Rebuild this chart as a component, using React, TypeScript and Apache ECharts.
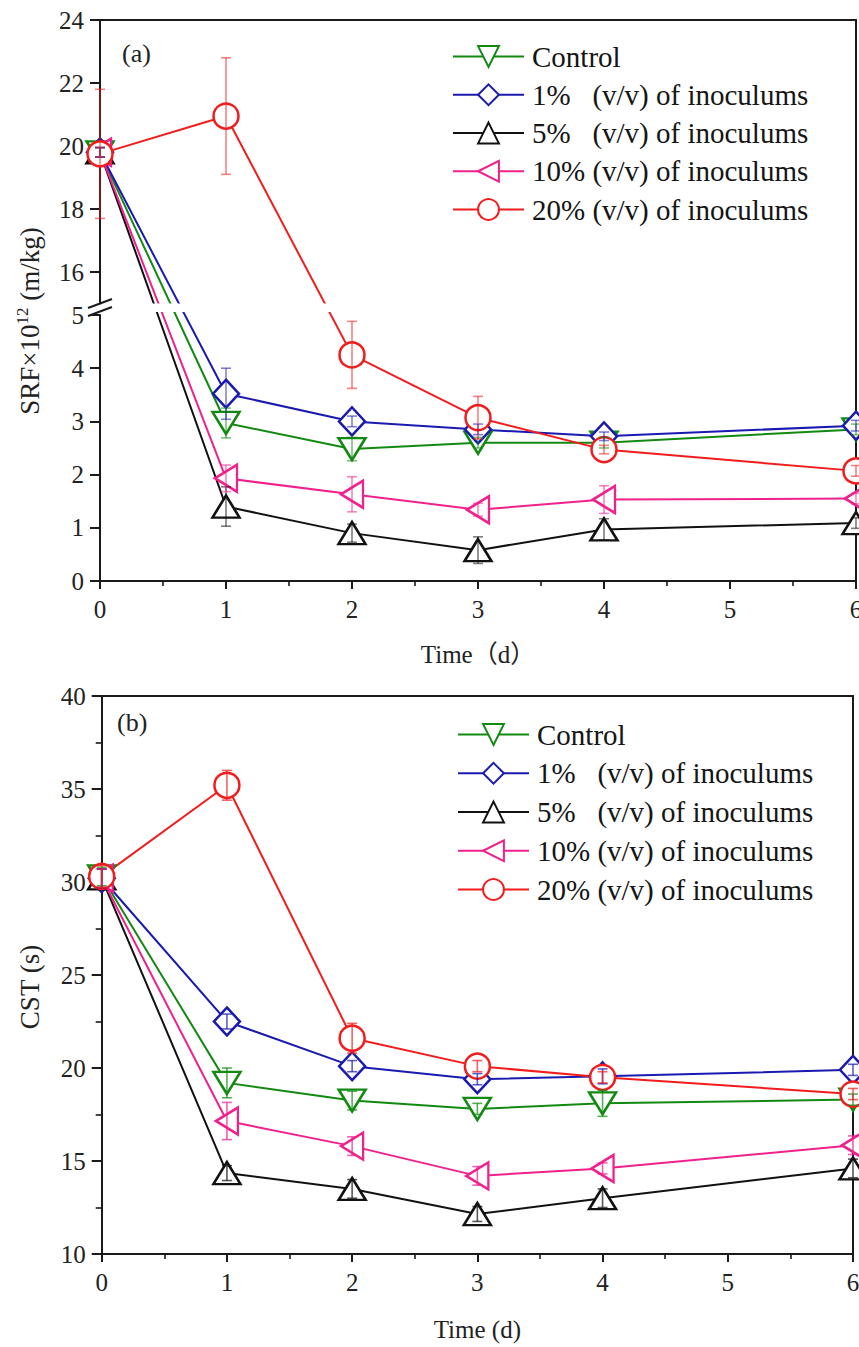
import React, { useEffect, useRef } from "react";
import * as echarts from "echarts";

// ---------- data ----------
const days = [0, 1, 2, 3, 4, 6];

const seriesNames = [
  "Control",
  "1%\u00a0\u00a0\u00a0(v/v) of inoculums",
  "5%\u00a0\u00a0\u00a0(v/v) of inoculums",
  "10% (v/v) of inoculums",
  "20% (v/v) of inoculums",
];

// SRF ×10^12 (m/kg)
const srfControl = [19.8, 2.97, 2.48, 2.6, 2.6, 2.85];
const srf1 = [19.8, 3.52, 3.0, 2.85, 2.72, 2.92];
const srf5 = [19.8, 1.4, 0.9, 0.58, 0.97, 1.09];
const srf10 = [19.8, 1.93, 1.63, 1.34, 1.53, 1.55];
const srf20 = [19.75, 20.95, 4.25, 3.07, 2.47, 2.07];

const srfErrControl = [0.15, 0.28, 0.22, 0.1, 0.1, 0.1];
const srfErr1 = [0.15, 0.48, 0.1, 0.1, 0.08, 0.1];
const srfErr5 = [0.15, 0.37, 0.17, 0.25, 0.2, 0.1];
const srfErr10 = [0.15, 0.25, 0.33, 0.12, 0.26, 0.1];
const srfErr20 = [2.05, 1.85, 0.63, 0.4, 0.08, 0.1];

// CST (s)
const cstControl = [30.3, 19.2, 18.25, 17.8, 18.1, 18.3];
const cst1 = [30.2, 22.5, 20.1, 19.4, 19.55, 19.9];
const cst5 = [30.2, 14.35, 13.5, 12.15, 13.0, 14.6];
const cst10 = [30.2, 17.15, 15.8, 14.2, 14.6, 15.85];
const cst20 = [30.3, 35.2, 21.6, 20.1, 19.5, 18.6];

const cstErrControl = [0.5, 0.8, 0.5, 0.3, 0.7, 0.3];
const cstErr1 = [0.5, 0.4, 0.3, 0.3, 0.4, 0.3];
const cstErr5 = [0.5, 0.4, 0.5, 0.4, 0.5, 0.5];
const cstErr10 = [0.5, 1.0, 0.5, 0.5, 0.3, 0.5];
const cstErr20 = [0.6, 0.8, 0.8, 0.3, 0.3, 0.3];

const srfUpperTicks = [16, 18, 20, 22, 24];

// ---------- style ----------
const colors = ["#128a12", "#1a1ab0", "#111111", "#f0208c", "#f21c1c"];
const symbols = ["triangle", "diamond", "triangle", "triangle", "circle"];
const rotations = [180, 0, 0, 90, 0];
const sizes: any[] = [[27, 22], [26, 28], [27, 22], [27, 22], 25];

const FONT = '"Liberation Serif", "Times New Roman", "Noto Sans CJK SC", serif';
const AX = "#1a1a1a";

// broken axis for panel (a): lower part 0..5, upper part 15..24
const LOW_MAX = 5;
const HIGH_MIN = 15;
const HIGH_MAX = 24;
const LOW_PX = 266;
const GAP_PX = 11.5;
const HIGH_PX = 283.5;
const brk = (v: number) =>
  v <= LOW_MAX
    ? (v / LOW_MAX) * LOW_PX
    : LOW_PX + GAP_PX + ((v - HIGH_MIN) / (HIGH_MAX - HIGH_MIN)) * HIGH_PX;
const ident = (v: number) => v;

function lineSeries(name: string, vals: number[], k: number, xi: number, yi: number, map: (v: number) => number) {
  return {
    type: "line",
    name,
    xAxisIndex: xi,
    yAxisIndex: yi,
    data: days.map((d, i) => [d, map(vals[i])]),
    symbol: symbols[k],
    symbolSize: sizes[k],
    symbolRotate: rotations[k],
    showAllSymbol: true,
    lineStyle: { color: colors[k], width: 2 },
    itemStyle: { color: "#ffffff", borderColor: colors[k], borderWidth: 2.5 },
    z: 2,
  };
}

function errSeries(vals: number[], errs: number[], k: number, xi: number, yi: number, map: (v: number) => number, op: number) {
  const color = colors[k];
  return {
    type: "custom",
    name: "err" + xi + "-" + k,
    xAxisIndex: xi,
    yAxisIndex: yi,
    z: 5,
    silent: true,
    data: days.map((d, i) => [d, map(vals[i] - errs[i]), map(vals[i] + errs[i])]),
    encode: { x: 0, y: [1, 2] },
    renderItem: (params: any, api: any) => {
      const lo = api.coord([api.value(0), api.value(1)]);
      const hi = api.coord([api.value(0), api.value(2)]);
      const st = { stroke: color, lineWidth: 1.6, opacity: op };
      return {
        type: "group",
        children: [
          { type: "line", shape: { x1: lo[0], y1: lo[1], x2: hi[0], y2: hi[1] }, style: st },
          { type: "line", shape: { x1: lo[0] - 5, y1: lo[1], x2: lo[0] + 5, y2: lo[1] }, style: st },
          { type: "line", shape: { x1: hi[0] - 5, y1: hi[1], x2: hi[0] + 5, y2: hi[1] }, style: st },
        ],
      };
    },
  };
}

const labelStyle = { fontSize: 25, fontFamily: FONT, color: "#222" };
const lineSt = { color: AX, width: 2 };

function borderX(gridIndex: number, position: string) {
  return {
    gridIndex,
    type: "value",
    min: 0,
    max: 6,
    position,
    axisLine: { show: true, onZero: false, lineStyle: lineSt },
    axisTick: { show: false },
    axisLabel: { show: false },
    splitLine: { show: false },
  };
}
function borderY(gridIndex: number, min: number, max: number) {
  return {
    gridIndex,
    type: "value",
    min,
    max,
    position: "right",
    axisLine: { show: true, onZero: false, lineStyle: lineSt },
    axisTick: { show: false },
    axisLabel: { show: false },
    splitLine: { show: false },
  };
}
function timeAxis(gridIndex: number, name: string, nameGap: number) {
  return {
    gridIndex,
    type: "value",
    min: 0,
    max: 6,
    interval: 1,
    position: "bottom",
    axisLine: { show: true, onZero: false, lineStyle: lineSt },
    axisTick: { show: true, length: 8, lineStyle: lineSt },
    minorTick: { show: true, splitNumber: 2, length: 5, lineStyle: { color: AX, width: 1.6 } },
    axisLabel: { ...labelStyle, margin: 16 },
    splitLine: { show: false },
    minorSplitLine: { show: false },
    name,
    nameLocation: "middle",
    nameGap,
    nameTextStyle: { fontSize: 25, fontFamily: FONT, color: "#222" },
  };
}

function legendCfg(left: number, top: number, gap: number) {
  return {
    data: seriesNames,
    orient: "vertical",
    left,
    top,
    itemWidth: 71,
    itemHeight: 26,
    itemGap: gap,
    selectedMode: false,
    textStyle: { fontSize: 29, fontFamily: FONT, color: "#151515", padding: [0, 0, 0, 3] },
  };
}

export default function App() {
  const ref = useRef<HTMLDivElement>(null);
  useEffect(() => {
    if (!ref.current) return;
    const chart = echarts.init(ref.current, null, { renderer: "svg" });

    const srfVals = [srfControl, srf1, srf5, srf10, srf20];
    const srfErrs = [srfErrControl, srfErr1, srfErr5, srfErr10, srfErr20];
    const cstVals = [cstControl, cst1, cst5, cst10, cst20];
    const cstErrs = [cstErrControl, cstErr1, cstErr5, cstErr10, cstErr20];

    const series: any[] = [];
    srfVals.forEach((v, k) => series.push(lineSeries(seriesNames[k], v, k, 0, 0, brk)));
    srfVals.forEach((v, k) => series.push(errSeries(v, srfErrs[k], k, 0, 0, brk, 0.55)));
    cstVals.forEach((v, k) => series.push(lineSeries(seriesNames[k], v, k, 3, 3, ident)));
    cstVals.forEach((v, k) => series.push(errSeries(v, cstErrs[k], k, 3, 3, ident, 0.7)));

    const option: any = {
      animation: false,
      backgroundColor: "#ffffff",
      grid: [
        { left: 100, top: 20, width: 756, height: 561 },
        { left: 100, top: 20, width: 756, height: 283.5 },
        { left: 100, top: 315, width: 756, height: 266 },
        { left: 101.7, top: 696, width: 751.3, height: 558 },
      ],
      xAxis: [
        borderX(0, "top"),
        { gridIndex: 1, type: "value", min: 0, max: 6, show: false },
        timeAxis(2, "Time\uff08d\uff09", 61),
        timeAxis(3, "Time (d)", 63),
        borderX(3, "top"),
      ],
      yAxis: [
        borderY(0, 0, LOW_PX + GAP_PX + HIGH_PX),
        {
          gridIndex: 1,
          type: "value",
          min: HIGH_MIN,
          max: HIGH_MAX,
          position: "left",
          axisLine: { show: true, onZero: false, lineStyle: lineSt },
          axisTick: { show: true, length: 10, customValues: srfUpperTicks, lineStyle: lineSt },
          axisLabel: { ...labelStyle, margin: 16, customValues: srfUpperTicks },
          splitLine: { show: false },
        },
        {
          gridIndex: 2,
          type: "value",
          min: 0,
          max: LOW_MAX,
          interval: 1,
          position: "left",
          axisLine: { show: true, onZero: false, lineStyle: lineSt },
          axisTick: { show: true, length: 10, lineStyle: lineSt },
          axisLabel: { ...labelStyle, margin: 16 },
          splitLine: { show: false },
        },
        {
          gridIndex: 3,
          type: "value",
          min: 10,
          max: 40,
          interval: 5,
          position: "left",
          axisLine: { show: true, onZero: false, lineStyle: lineSt },
          axisTick: { show: true, length: 10, lineStyle: lineSt },
          minorTick: { show: true, splitNumber: 2, length: 6, lineStyle: { color: AX, width: 1.6 } },
          axisLabel: { ...labelStyle, margin: 16 },
          splitLine: { show: false },
          minorSplitLine: { show: false },
        },
        borderY(3, 10, 40),
      ],
      legend: [legendCfg(447, 37, 9.25), legendCfg(452, 715, 9.75)],
      graphic: [
        // break band across panel (a)
        { type: "rect", z: 50, shape: { x: 101, y: 303.5, width: 753, height: 8.5 }, style: { fill: "#ffffff" } },
        { type: "line", z: 51, shape: { x1: 88, y1: 308, x2: 112, y2: 299 }, style: { stroke: AX, lineWidth: 2 } },
        { type: "line", z: 51, shape: { x1: 88, y1: 316, x2: 112, y2: 307 }, style: { stroke: AX, lineWidth: 2 } },
        { type: "text", z: 60, x: 122, y: 53, style: { text: "(a)", fontSize: 26, fontFamily: FONT, fill: "#222", align: "left", verticalAlign: "middle" } },
        { type: "text", z: 60, x: 117, y: 722, style: { text: "(b)", fontSize: 26, fontFamily: FONT, fill: "#222", align: "left", verticalAlign: "middle" } },
        {
          type: "text",
          z: 60,
          x: 30,
          y: 321,
          rotation: Math.PI / 2,
          style: {
            text: "{a|SRF×10}{s|12}{a| (m/kg)}",
            align: "center",
            verticalAlign: "middle",
            rich: {
              a: { fontSize: 27, fontFamily: FONT, fill: "#222", lineHeight: 32 },
              s: { fontSize: 17, fontFamily: FONT, fill: "#222", verticalAlign: "top" },
            },
          },
        },
        {
          type: "text",
          z: 60,
          x: 30,
          y: 987,
          rotation: Math.PI / 2,
          style: { text: "CST (s)", fontSize: 27, fontFamily: FONT, fill: "#222", align: "center", verticalAlign: "middle" },
        },
      ],
      series,
    };
    chart.setOption(option);
    return () => chart.dispose();
  }, []);

  return (
    <div style={{ position: "absolute", left: 0, top: 0, width: 859, height: 1347, overflow: "hidden", background: "#fff" }}>
      <div ref={ref} style={{ width: 880, height: 1347 }} />
    </div>
  );
}
